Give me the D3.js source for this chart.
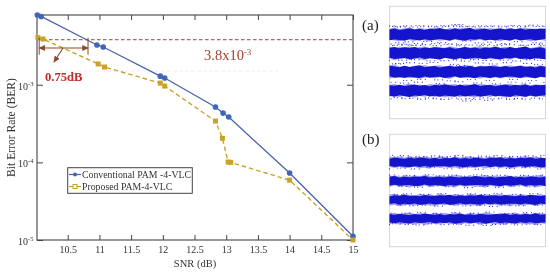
<!DOCTYPE html>
<html>
<head>
<meta charset="utf-8">
<script src="https://cdn.jsdelivr.net/npm/d3@7"></script>
<style>
body { margin: 0; background: white; }
svg { display: block; filter: blur(0.3px); }
text { font-family: "Liberation Serif", serif; fill: #333; }
</style>
</head>
<body>
<div id="chart"></div>
<script>
// BER curves
var snrConv = [10.02, 10.08, 10.96, 11.06, 11.96, 12.03, 12.83, 12.95, 13.04, 14, 15];
var berConv = [7.9e-3, 7.57e-3, 3.25e-3, 3.06e-3, 1.29e-3, 1.22e-3, 5.16e-4, 4.31e-4, 3.84e-4, 7.28e-5, 1.12e-5];
var snrProp = [10.03, 10.11, 10.98, 11.08, 11.96, 12.03, 12.83, 12.94, 13.03, 13.07, 14, 15];
var berProp = [4.04e-3, 3.88e-3, 1.85e-3, 1.69e-3, 1.05e-3, 9.6e-4, 3.4e-4, 2.04e-4, 1.01e-4, 1.0e-4, 5.9e-5, 1e-5];
var xTicks = [10.5, 11, 11.5, 12, 12.5, 13, 13.5, 14, 14.5, 15];
var yTicks = [1e-3, 1e-4, 1e-5];
var threshold = 3.8e-3;
var gapFrom = 10.05, gapTo = 10.82;

// the four levels of each eye panel
var levels = [-3, -1, 1, 3];
// outline of a band, offset from its level, left to right
var edgeTopA = [.58,.52,.63,.48,.56,.66,.52,.6,.47,.62,.54,.68,.56,.49,.65,.53,.59,.7,.5,.56,.63,.47,.58,.66,.52,.62,.54,.65,.49,.6,.56,.62];
var edgeBotA = [.56,.65,.5,.6,.68,.52,.58,.47,.63,.56,.66,.52,.6,.65,.49,.62,.56,.52,.66,.58,.47,.63,.54,.6,.68,.5,.58,.65,.52,.62,.56,.49];
var edgeTopB = [.48,.4,.52,.44,.38,.5,.42,.54,.46,.4,.5,.36,.48,.44,.55,.4,.47,.38,.52,.44,.4,.5,.46,.54,.38,.48,.42,.5,.44,.56,.4,.46];
var edgeBotB = [.42,.5,.38,.46,.54,.4,.48,.44,.36,.52,.42,.5,.4,.55,.46,.38,.5,.44,.4,.54,.48,.36,.5,.42,.46,.52,.4,.48,.38,.5,.44,.42];
// stray points around the bands: [position 0-100, amplitude]
var specksA = [[2,3.85],[5,3.8],[9,3.9],[13,3.78],[17,3.95],[20,3.82],[25,3.88],[29,3.8],[33,3.93],[36,3.84],[40,4.02],[41,3.9],[42,4.05],[45,3.82],[49,3.88],[53,3.8],[57,3.92],[61,3.84],[65,3.9],[70,3.8],[74,3.88],[78,3.95],[82,3.82],[87,3.9],[90,4],[94,3.85],[98,3.9],
[4,2.1],[10,2.2],[16,2.05],[22,2.25],[31,2.12],[38,1.98],[47,2.3],[55,2.1],[63,2.18],[72,2.02],[80,2.22],[92,2.1],
[6,1.95],[12,1.85],[27,2.02],[44,1.9],[58,1.8],[69,1.95],[84,1.86],[96,1.98],
[3,1.85],[8,1.95],[15,1.82],[21,1.9],[28,1.8],[35,1.92],[43,1.78],[51,1.86],[59,1.94],[67,1.8],[75,1.9],[83,1.84],[91,1.93],[97,1.8],
[6,.25],[14,.3],[24,.18],[33,.2],[41,.28],[46,.15],[52,.3],[60,.22],[71,.26],[79,.17],[88,.3],[95,.24],
[4,-.1],[11,-.02],[19,-.12],[26,0],[39,-.2],[43,-.3],[48,-.38],[55,-.05],[64,-.15],[73,-.02],[86,-.1],[93,-.2],
[2,-.15],[9,-1.9],[18,-1.8],[29,-1.85],[37,-1.95],[50,-1.82],[62,-1.9],[77,-1.8],[89,-1.92],
[7,-2.2],[16,-2.1],[30,-2.25],[42,-2.05],[54,-2.18],[66,-2.28],[76,-2.08],[85,-2.2],[99,-2.12],
[3,-3.75],[8,-3.85],[13,-3.8],[18,-3.92],[23,-3.78],[28,-3.86],[33,-3.95],[38,-3.8],[44,-3.9],[47,-4.1],[49,-3.82],[53,-3.95],[58,-3.78],[61,-4.02],[65,-3.88],[70,-3.8],[75,-3.92],[80,-3.84],[85,-3.9],[91,-3.8],[96,-3.88]];
var specksB = [[3,3.6],[7,3.72],[12,3.55],[17,3.65],[22,3.58],[27,3.7],[32,3.56],[37,3.62],[42,3.74],[47,3.6],[52,3.55],[57,3.68],[62,3.58],[67,3.72],[72,3.56],[77,3.64],[82,3.6],[87,3.7],[92,3.58],[97,3.76],
[5,2.4],[14,2.3],[24,2.45],[35,2.32],[45,2.42],[55,2.28],[65,2.4],[75,2.35],[85,2.44],[95,2.3],
[4,1.55],[11,1.62],[19,1.52],[23,1.68],[30,1.56],[38,1.64],[46,1.54],[54,1.66],[61,1.58],[69,1.64],[76,1.52],[84,1.62],[92,1.56],[98,1.66],
[6,.45],[16,.35],[26,.5],[36,.4],[48,.3],[58,.46],[68,.36],[78,.48],[88,.4],
[3,-.45],[9,-.35],[20,-.42],[31,-.32],[42,-.46],[50,-.36],[59,-.44],[67,-.3],[79,-.42],[90,-.34],
[5,-1.55],[13,-1.62],[21,-1.56],[29,-1.66],[39,-1.52],[47,-1.64],[56,-1.58],[64,-1.7],[72,-1.54],[81,-1.62],[93,-1.56],
[8,-2.42],[18,-2.32],[28,-2.45],[40,-2.35],[52,-2.42],[62,-2.3],[74,-2.44],[86,-2.36],[96,-2.42],
[2,-3.55],[10,-3.62],[17,-3.68],[25,-3.56],[33,-3.64],[41,-3.58],[49,-3.7],[57,-3.56],[60,-3.72],[66,-3.62],[73,-3.56],[80,-3.66],[88,-3.58],[95,-3.64]];
// the same stray points are laid again at these position shifts to thicken the fringe
var speckShifts = [0, 2, 5];

var width = 550, height = 274;
var margin = {left: 37, right: 353, top: 15, bottom: 240};

var svg = d3.select('#chart').append('svg')
    .attr('width', width)
    .attr('height', height);

var x = d3.scaleLinear().domain([10.015, 15]).range([margin.left, margin.right]);
var y = d3.scaleLog().domain([10 ** -2.102, 1e-5]).range([margin.top, margin.bottom]);

var axisColor = '#444';

// pale compression ghost of the scan
svg.append('line')
    .attr('x1', 47).attr('x2', 278).attr('y1', 71).attr('y2', 71)
    .attr('stroke', '#fde6fa').attr('stroke-dasharray', '4,2');

// frame
svg.append('rect')
    .attr('x', margin.left).attr('y', margin.top)
    .attr('width', margin.right - margin.left)
    .attr('height', margin.bottom - margin.top)
    .attr('fill', 'none').attr('stroke', axisColor).attr('stroke-width', 1.1);

// ticks on all four sides
var bottomAxis = d3.axisBottom(x).tickValues(xTicks).tickSize(-5).tickPadding(6).tickFormat(d3.format('~g'));
var gx = svg.append('g').attr('transform', 'translate(0,' + margin.bottom + ')').call(bottomAxis);
var topAxis = d3.axisTop(x).tickValues(xTicks).tickSize(-5).tickFormat('');
var gt = svg.append('g').attr('transform', 'translate(0,' + margin.top + ')').call(topAxis);
var leftAxis = d3.axisLeft(y).tickValues(yTicks).tickSize(-6).tickFormat('');
var gl = svg.append('g').attr('transform', 'translate(' + margin.left + ',0)').call(leftAxis);
var rightAxis = d3.axisRight(y).tickValues(yTicks).tickSize(-6).tickFormat('');
var gr = svg.append('g').attr('transform', 'translate(' + margin.right + ',0)').call(rightAxis);
[gx, gt, gl, gr].forEach(function(g) {
    g.select('.domain').remove();
    g.selectAll('line').attr('stroke', axisColor);
});
gx.selectAll('text').attr('font-size', 10).attr('font-family', 'Liberation Serif').attr('fill', '#333');

// log labels with a superscript
yTicks.forEach(function(t) {
    var label = svg.append('text')
        .attr('x', 18).attr('y', y(t) + 5)
        .attr('font-size', 10);
    label.append('tspan').text('10');
    label.append('tspan').text(Math.log10(t).toFixed(0))
        .attr('font-size', 6.5).attr('dy', -4);
});

svg.append('text').text('SNR (dB)')
    .attr('x', 195).attr('y', 267)
    .attr('text-anchor', 'middle').attr('font-size', 10.5);
svg.append('text').text('Bit Error Rate (BER)')
    .attr('transform', 'translate(15,127.5) rotate(-90)')
    .attr('text-anchor', 'middle').attr('font-size', 11.6);

// threshold
svg.append('line')
    .attr('x1', margin.left).attr('x2', margin.right)
    .attr('y1', y(threshold)).attr('y2', y(threshold))
    .attr('stroke', '#b0392b').attr('stroke-width', 1)
    .attr('stroke-dasharray', '3.5,2.5');

var thresholdLabel = svg.append('text')
    .attr('x', 204).attr('y', 60)
    .attr('font-size', 14.5).style('fill', '#a5402f');
thresholdLabel.append('tspan').text('3.8x10');
thresholdLabel.append('tspan').text('-3').attr('font-size', 9).attr('dy', -5);

// curves
var line = d3.line()
    .x(function(d) { return x(d[0]); })
    .y(function(d) { return y(d[1]); });

var convColor = '#4a62ad', propColor = '#c9a227';

svg.append('path').datum(d3.zip(snrConv, berConv))
    .attr('d', line).attr('fill', 'none')
    .attr('stroke', convColor).attr('stroke-width', 1.3);

svg.append('path').datum(d3.zip(snrProp, berProp))
    .attr('d', line).attr('fill', 'none')
    .attr('stroke', propColor).attr('stroke-width', 1.4)
    .attr('stroke-dasharray', '4.5,3');

svg.append('g').selectAll('circle').data(d3.zip(snrConv, berConv))
    .enter().append('circle')
        .attr('cx', function(d) { return x(d[0]); })
        .attr('cy', function(d) { return y(d[1]); })
        .attr('r', 2.8)
        .attr('fill', '#3f66b8');

svg.append('g').selectAll('rect').data(d3.zip(snrProp, berProp))
    .enter().append('rect')
        .attr('x', function(d) { return x(d[0]) - 2.5; })
        .attr('y', function(d) { return y(d[1]) - 2.5; })
        .attr('width', 5)
        .attr('height', 5)
        .attr('fill', propColor);

// 0.75dB bracket
var defs = svg.append('defs');
defs.append('marker').attr('id', 'head')
    .attr('viewBox', '0 0 8 8').attr('refX', 7).attr('refY', 4)
    .attr('markerWidth', 6).attr('markerHeight', 6)
    .attr('orient', 'auto-start-reverse')
    .append('path').attr('d', 'M0,0.5L8,4L0,7.5Z').attr('fill', '#8c4a2c');

var bracketColor = '#8c4a2c';
[gapFrom, gapTo].forEach(function(v) {
    svg.append('line')
        .attr('x1', x(v)).attr('x2', x(v))
        .attr('y1', y(threshold) - 2).attr('y2', y(threshold) + 15)
        .attr('stroke', bracketColor).attr('stroke-width', 1);
});
svg.append('line')
    .attr('x1', x(gapFrom)).attr('x2', x(gapTo))
    .attr('y1', 48).attr('y2', 48)
    .attr('stroke', bracketColor).attr('stroke-width', 1.1)
    .attr('marker-start', 'url(#head)').attr('marker-end', 'url(#head)');
svg.append('line')
    .attr('x1', 63).attr('y1', 48).attr('x2', 54).attr('y2', 62)
    .attr('stroke', bracketColor).attr('stroke-width', 1.1)
    .attr('marker-end', 'url(#head)');

svg.append('text').text('0.75dB')
    .attr('x', 45).attr('y', 81)
    .attr('font-size', 12.6).attr('font-weight', 'bold')
    .style('fill', '#c22a2a');

// legend
var legend = svg.append('g');
legend.append('rect')
    .attr('x', 67.7).attr('y', 167.7)
    .attr('width', 124.6).attr('height', 25.6)
    .attr('fill', 'white').attr('stroke', axisColor);
[['Conventional PAM -4-VLC', convColor, 175, 'circle'], ['Proposed PAM-4-VLC', propColor, 187, 'square']].forEach(function(d) {
    legend.append('line')
        .attr('x1', 69).attr('x2', 81).attr('y1', d[2] - 0.5).attr('y2', d[2] - 0.5)
        .attr('stroke', d[1]).attr('stroke-width', 1.2);
    if (d[3] == 'circle') {
        legend.append('circle').attr('cx', 75).attr('cy', d[2] - 0.5).attr('r', 2).attr('fill', d[1]);
    } else {
        legend.append('rect').attr('x', 73).attr('y', d[2] - 2.5).attr('width', 4).attr('height', 4)
            .attr('fill', 'white').attr('stroke', d[1]);
    }
    legend.append('text').text(d[0])
        .attr('x', 82).attr('y', d[2] + 3)
        .attr('font-size', 9.8);
});

// eye panels
var panelX = d3.scaleLinear().domain([0, 100]).range([389.5, 545.5]);

function drawPanel(top, edgeTop, edgeBot, specks, name, labelY, fringeScale) {
    var panelY = d3.scaleLinear().domain([6, -6]).range([top, top + 112.4]);
    var g = svg.append('g');
    g.append('rect')
        .attr('x', panelX(0)).attr('y', top)
        .attr('width', panelX(100) - panelX(0)).attr('height', 112.4)
        .attr('fill', 'white').attr('stroke', '#d6d6d6');
    var steps = d3.range(edgeTop.length);
    levels.forEach(function(level, b) {
        // loose fringe, then the dense core
        var fringe = d3.area()
            .x(function(i) { return panelX(i / (steps.length - 1) * 100); })
            .y0(function(i) { return panelY(level - edgeTop[(i + b * 5) % steps.length] * fringeScale); })
            .y1(function(i) { return panelY(level + edgeBot[(i + b * 3) % steps.length] * fringeScale); });
        g.append('path').datum(steps).attr('d', fringe).attr('fill', '#5a5ae6').attr('opacity', 0.55);
        var area = d3.area()
            .x(function(i) { return panelX(i / (steps.length - 1) * 100); })
            .y0(function(i) { return panelY(level - edgeBot[(i + b * 7) % steps.length]); })
            .y1(function(i) { return panelY(level + edgeTop[(i + b * 11) % steps.length]); });
        g.append('path').datum(steps).attr('d', area).attr('fill', '#1414cc');
    });
    speckShifts.forEach(function(shift) {
        g.append('g').selectAll('circle').data(specks)
            .enter().append('circle')
                .attr('cx', function(d) { return panelX((d[0] + shift) % 100); })
                .attr('cy', function(d) { return panelY(d[1]); })
                .attr('r', 0.6)
                .attr('fill', '#2a2ad0');
    });
    svg.append('text').text(name)
        .attr('x', 362).attr('y', labelY)
        .attr('font-size', 15).style('fill', '#222');
}

drawPanel(6.3, edgeTopA, edgeBotA, specksA, '(a)', 30, 1.1);
drawPanel(134.3, edgeTopB, edgeBotB, specksB, '(b)', 144, 1.25);
</script>
</body>
</html>
